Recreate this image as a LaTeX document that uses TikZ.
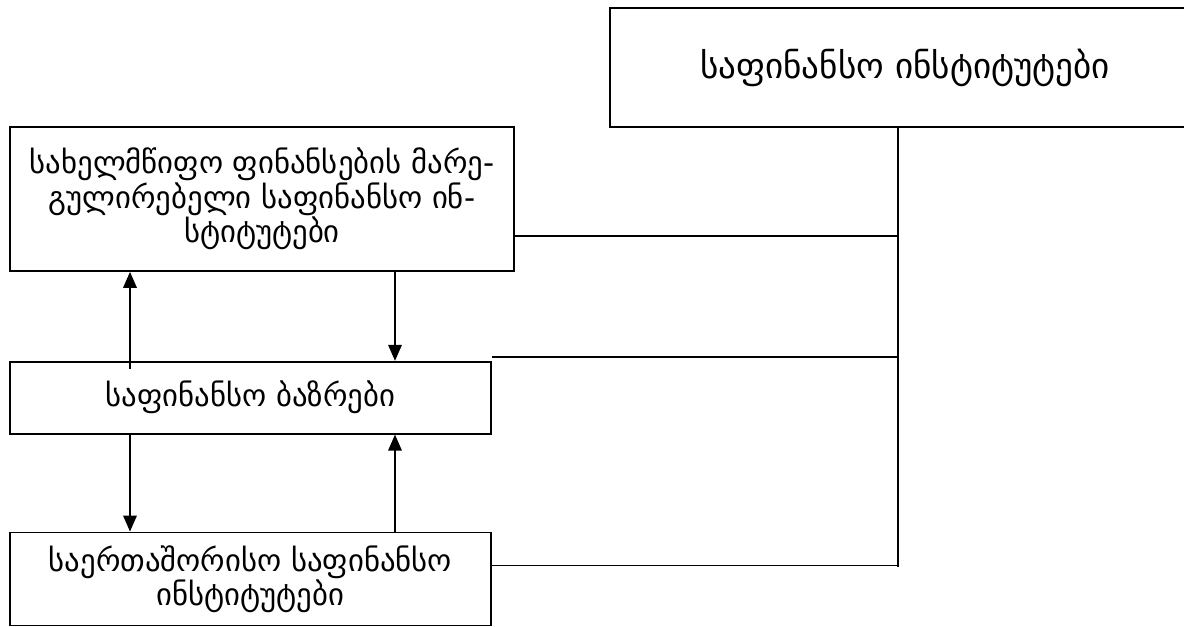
\documentclass[tikz,border=0pt]{standalone}
\usepackage{fontspec}
\newfontfamily\geo{DejaVu Sans}
\usepackage{tikz}
\usetikzlibrary{arrows.meta,positioning}

\tikzset{
  inst/.style={draw,rectangle,line width=1pt,inner sep=0pt,align=center,font=\geo\fontsize{17.5}{19.5}\selectfont},
  link/.style={line width=1pt},
  flow/.style={line width=1pt,-{Triangle[length=0.32cm,width=0.27cm]}}
}

\begin{document}
\begin{tikzpicture}[x=0.02cm,y=-0.02cm]
\useasboundingbox (0,0) rectangle (1184,626);

\node[inst,minimum width=11.8cm,minimum height=2.38cm,font=\geo\fontsize{20}{24}\selectfont] (finist) at (905,67.5) {საფინანსო ინსტიტუტები};
\node[inst,minimum width=10.08cm,minimum height=2.88cm] (regul) at (262,199)
  {სახელმწიფო ფინანსების მარე-\\გულირებელი საფინანსო ინ-\\სტიტუტები};
\node[inst,minimum width=9.62cm,minimum height=1.44cm] (markets) [below=1.78cm of regul.south west,anchor=north west] {საფინანსო ბაზრები};
\node[inst,minimum width=9.62cm,minimum height=1.86cm] (intern) [below=1.94cm of markets.south west,anchor=north west] {საერთაშორისო საფინანსო\\ინსტიტუტები};

\coordinate (colL) at (130,0);
\coordinate (colR) at (395,0);
\coordinate (trunkend) at (898,567);

\draw[flow] ([yshift=-0.16cm]markets.north -| colL) -- (regul.south -| colL);
\draw[flow] (regul.south -| colR) -- (markets.north -| colR);
\draw[flow] (markets.south -| colL) -- (intern.north -| colL);
\draw[flow] (intern.north -| colR) -- (markets.south -| colR);

\draw[link] (finist.south -| trunkend) -- (trunkend);
\draw[link] ([yshift=-0.74cm]regul.east) coordinate (r1) -- (r1 -| trunkend);
\draw[link] ([yshift=0.08cm]markets.north east) coordinate (r2) -- (r2 -| trunkend);
\draw[link] ([yshift=0.27cm]intern.east) coordinate (r3) -- (r3 -| trunkend);

\end{tikzpicture}
\end{document}
